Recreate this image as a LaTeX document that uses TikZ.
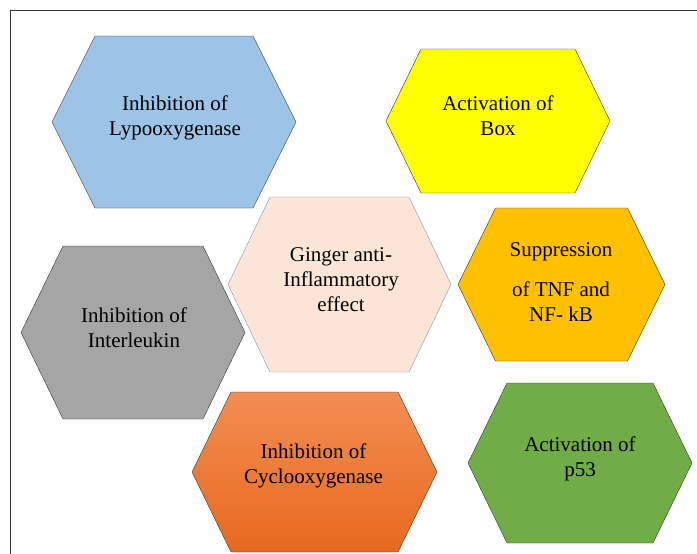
\documentclass[tikz,border=0pt]{standalone}
\usepackage{fontspec}
\setmainfont{Liberation Serif}
\definecolor{lypocolor}{HTML}{9DC3E6}
\definecolor{boxcolor}{HTML}{FFFF00}
\definecolor{gingercolor}{HTML}{FBE5D6}
\definecolor{gingerline}{HTML}{8497B0}
\definecolor{ilcolor}{HTML}{A5A5A5}
\definecolor{tnfcolor}{HTML}{FFC000}
\definecolor{pcolor}{HTML}{70AD47}
\definecolor{coxtop}{HTML}{F28E52}
\definecolor{coxbottom}{HTML}{E8691F}
\begin{document}
\begin{tikzpicture}[x=1pt,y=-1pt,hextext/.style={align=center,font=\fontsize{21}{25}\selectfont}]
\useasboundingbox (0,0) rectangle (697,554);
\draw[color = black!80] (697,10) -- (10,10) -- (10,554);
\foreach \cx/\cy/\hw/\tw/\hh/\col in {174/122/122/79/86/lypocolor, 498/121/112/77/72/boxcolor, 133/332.5/112/70/86.5/ilcolor, 561.5/284.5/103.5/66/76.5/tnfcolor, 580/463/112/73/80/pcolor}
  \draw [fill = \col, draw = black!80] (\cx-\hw,\cy) -- (\cx-\tw,\cy-\hh) -- (\cx+\tw,\cy-\hh) -- (\cx+\hw,\cy) -- (\cx+\tw,\cy+\hh) -- (\cx-\tw,\cy+\hh) -- cycle;
\draw [fill = gingercolor, draw = gingerline] (228,284.5) -- (270,197) -- (409,197) -- (451,284.5) -- (409,372) -- (270,372) -- cycle;
\draw [top color = coxtop, bottom color = coxbottom, draw = black!80] (192,472) -- (231,392) -- (398,392) -- (437,472) -- (398,552) -- (231,552) -- cycle;
\node[hextext] (lypo) at (175,118) {Inhibition of\\Lypooxygenase};
\node[hextext] (box) at (498,116) {Activation of\\Box};
\node[hextext] (ginger) at (341,280) {Ginger anti-\\Inflammatory\\effect};
\node[hextext] (interleukin) at (134,328) {Inhibition of\\Interleukin};
\node[hextext] (cox) at (313.5,466) {Inhibition of\\Cyclooxygenase};
\node[hextext] (tnf) at (561,282) {Suppression\\[15pt]of TNF and\\NF- kB};
\node[hextext] (p53) at (580,458.5) {Activation of\\p53};
\end{tikzpicture}
\end{document}
